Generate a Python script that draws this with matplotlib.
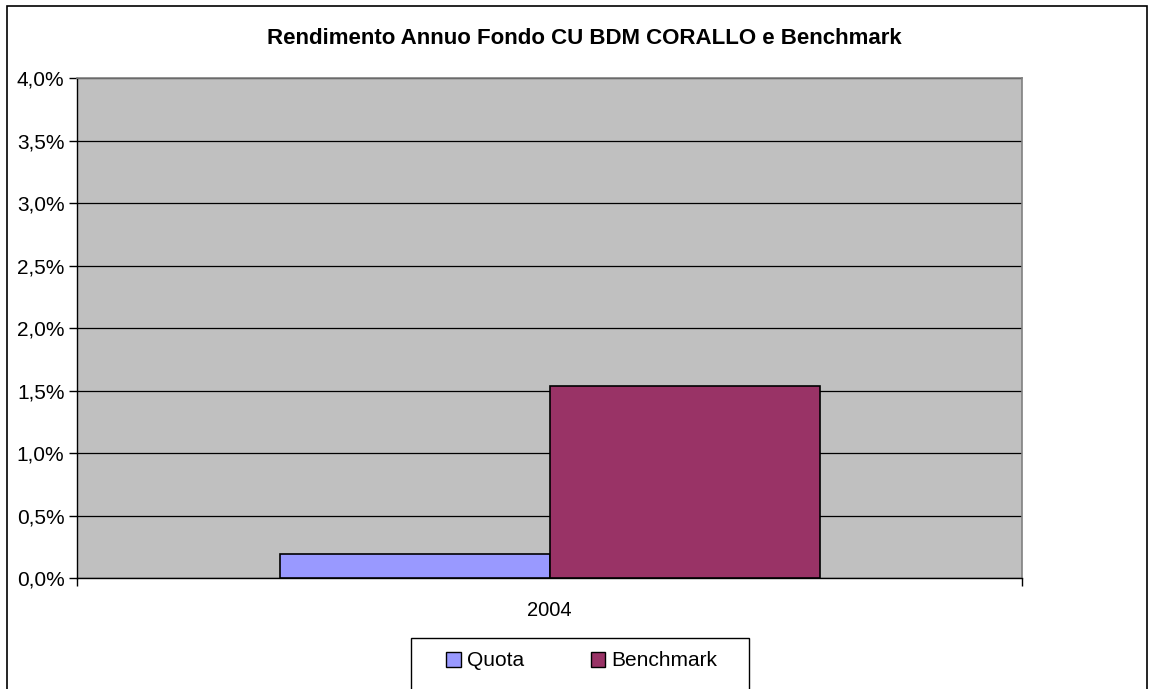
import matplotlib.pyplot as plt
import matplotlib.patches as mpatches
from matplotlib.ticker import FuncFormatter, MultipleLocator

categories = ["2004"]
series = ["Quota", "Benchmark"]
values = [0.19, 1.54]  # percent
colors = ["#9999ff", "#993366"]

plt.rcParams["font.family"] = ["Liberation Sans", "DejaVu Sans"]

W, H = 1152, 689
fig = plt.figure(figsize=(W / 100, H / 100), dpi=100)

# chart border (cut off at the bottom, as in the original)
fig.patches.append(mpatches.Rectangle((7 / W, -0.05), (1147 - 7) / W, 1.05 - 6 / H,
                                      transform=fig.transFigure, fill=False,
                                      edgecolor="black", linewidth=1.2))

ax = fig.add_axes([77 / W, 1 - 578 / H, (1022 - 77) / W, (578 - 78) / H])
ax.set_facecolor("#c0c0c0")

bar_w = 270 / 945
offsets = [-bar_w / 2, bar_w / 2]
for name, val, col, off in zip(series, values, colors, offsets):
    ax.bar(off, val, width=bar_w, color=col, edgecolor="black", linewidth=1.2,
           label=name, zorder=3)

ax.set_xlim(-0.5, 0.5)
ax.set_ylim(0, 4.0)
ax.yaxis.set_major_locator(MultipleLocator(0.5))
ax.yaxis.set_major_formatter(FuncFormatter(lambda v, p: f"{v:.1f}%".replace(".", ",")))
ax.grid(axis="y", color="black", linewidth=0.9, zorder=1)
ax.set_axisbelow(True)

ax.set_xticks([-0.5, 0.5])
ax.set_xticklabels(["", ""])
ax.text(0.5, -0.045, categories[0], transform=ax.transAxes, ha="center", va="top", fontsize=14.5)
ax.tick_params(axis="y", length=6, width=1, labelsize=15, pad=3)
ax.tick_params(axis="x", length=6, width=1)

for s in ["top", "right"]:
    ax.spines[s].set_color("#808080")
    ax.spines[s].set_linewidth(1.2)
for s in ["left", "bottom"]:
    ax.spines[s].set_color("black")
    ax.spines[s].set_linewidth(1)

fig.text(584 / W, 1 - 38 / H, "Rendimento Annuo Fondo CU BDM CORALLO e Benchmark",
         ha="center", va="center", fontsize=16, fontweight="bold")

# legend box, also running off the bottom edge
fig.patches.append(mpatches.Rectangle((411 / W, -0.05), (749 - 411) / W, 0.05 + (H - 638) / H,
                                      transform=fig.transFigure, fill=True, facecolor="white",
                                      edgecolor="black", linewidth=1))
handles = [mpatches.Patch(facecolor=c, edgecolor="black", linewidth=1, label=n)
           for n, c in zip(series, colors)]
leg = fig.legend(handles=handles, loc="center", bbox_to_anchor=(582 / W, 1 - 661 / H),
                 ncol=2, fontsize=15, frameon=False, handlelength=0.7,
                 handleheight=0.7, handletextpad=0.3, columnspacing=3.2,
                 borderpad=0, borderaxespad=0)

fig.savefig("out.png", dpi=100)
